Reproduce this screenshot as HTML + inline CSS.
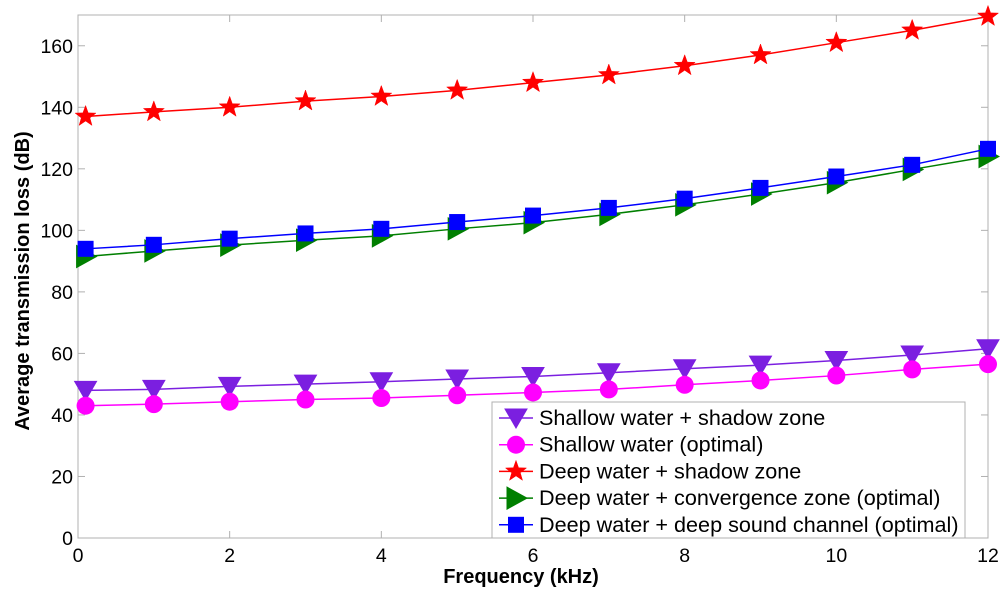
<!DOCTYPE html>
<html><head><meta charset="utf-8"><style>
body{margin:0;background:#fff;}
svg{display:block;font-family:"Liberation Sans",Arial,sans-serif;}
</style></head><body>
<svg id="chart" width="1000" height="597"></svg>
<script>
const xValues=[0.1,1,2,3,4,5,6,7,8,9,10,11,12];
const shallowShadow=[48,48.3,49.3,50,50.8,51.7,52.5,53.7,55,56.2,57.7,59.5,61.5];
const shallowOptimal=[43,43.5,44.3,45,45.5,46.4,47.3,48.3,49.8,51.2,52.8,54.8,56.5];
const deepShadow=[137,138.5,140,142,143.5,145.5,148,150.5,153.5,157,161,165,169.5];
const deepConvergence=[91.5,93.3,95.2,96.8,98.2,100.5,102.5,105.2,108.3,111.8,115.5,119.8,124];
const deepChannel=[94,95.3,97.3,99,100.5,102.7,104.8,107.3,110.3,113.8,117.5,121.3,126.5];
const xTicks=[0,2,4,6,8,10,12];
const yTicks=[0,20,40,60,80,100,120,140,160];
const seriesNames=["Shallow water + shadow zone","Shallow water (optimal)","Deep water + shadow zone","Deep water + convergence zone (optimal)","Deep water + deep sound channel (optimal)"];

const NS="http://www.w3.org/2000/svg";
const svg=document.getElementById('chart');
const L=78,R=988,T=15,B=538,XMAX=12,YMAX=170;
const sx=v=>L+v/XMAX*(R-L);
const sy=v=>B-v/YMAX*(B-T);
function mk(tag,attrs,parent){const e=document.createElementNS(NS,tag);for(const k in attrs)e.setAttribute(k,attrs[k]);(parent||svg).appendChild(e);return e;}
const frame=mk('rect',{x:L,y:T,width:R-L,height:B-T,fill:'#fff',stroke:'#b0b0b0','stroke-width':1});


xTicks.forEach(t=>{
  const x=sx(t);
  mk('line',{x1:x,x2:x,y1:B,y2:B-7,stroke:'#b0b0b0'});mk('line',{x1:x,x2:x,y1:T,y2:T+7,stroke:'#b0b0b0'});
  const tx=mk('text',{x:x,y:B+24,'font-size':19.5,'text-anchor':'middle'});tx.textContent=t;
  
  
});
yTicks.forEach(t=>{
  const y=sy(t);
  mk('line',{x1:L,x2:L+7,y1:y,y2:y,stroke:'#b0b0b0'});mk('line',{x1:R-7,x2:R,y1:y,y2:y,stroke:'#b0b0b0'});
  const tx=mk('text',{x:L-5,y:y+7,'font-size':19.5,'text-anchor':'end'});tx.textContent=t;
  
  
});
const xt=mk('text',{x:521,y:583,'font-size':20,'font-weight':'bold','text-anchor':'middle'});xt.textContent='Frequency (kHz)';


const yt=mk('text',{x:0,y:0,'font-size':20,'font-weight':'bold','text-anchor':'middle',transform:`translate(29,281) rotate(-90)`});yt.textContent='Average transmission loss (dB)';



function marker(g,type,x,y,color){
  if(type==='tri-down')mk('polygon',{points:`${x-11},${y-9} ${x+11},${y-9} ${x},${y+10}`,fill:color,stroke:color},g);
  else if(type==='circle')mk('circle',{cx:x,cy:y,r:9,fill:color},g);
  else if(type==='star'){let p=[];for(let i=0;i<10;i++){const r=i%2?4.5:11,a=-Math.PI/2+i*Math.PI/5;p.push((x+r*Math.cos(a)).toFixed(1)+','+(y+r*Math.sin(a)).toFixed(1));}mk('polygon',{points:p.join(' '),fill:color,stroke:color,'stroke-width':0.5},g);}
  else if(type==='tri-right')mk('polygon',{points:`${x-9},${y-11} ${x-9},${y+11} ${x+11},${y}`,fill:color,stroke:color},g);
  else if(type==='square')mk('rect',{x:x-8,y:y-8,width:16,height:16,fill:color},g);
}
const series=[
 {d:shallowShadow,c:'#7b1fe0',m:'tri-down',n:'series-shallow-shadow'},
 {d:shallowOptimal,c:'#ff00ff',m:'circle',n:'series-shallow-optimal'},
 {d:deepShadow,c:'#ff0000',m:'star',n:'series-deep-shadow'},
 {d:deepConvergence,c:'#007f00',m:'tri-right',n:'series-deep-convergence'},
 {d:deepChannel,c:'#0000ff',m:'square',n:'series-deep-channel'}];
series.forEach(s=>{
  const g=mk('g',{});
  
  
  mk('polyline',{points:xValues.map((x,i)=>sx(x)+','+sy(s.d[i])).join(' '),fill:'none',stroke:s.c,'stroke-width':1.5},g);
  xValues.forEach((x,i)=>marker(g,s.m,sx(x),sy(s.d[i]),s.c));
});
const lg=mk('g',{});


mk('rect',{x:492,y:402,width:473,height:136,fill:'#fff',stroke:'#b0b0b0'},lg);
series.forEach((s,i)=>{
  const y=418+i*26.7;
  const e=mk('g',{},lg);
  
  
  mk('line',{x1:499,x2:533,y1:y,y2:y,stroke:s.c,'stroke-width':1.5},e);
  marker(e,s.m,516,y,s.c);
  const t=mk('text',{x:539,y:y+7,'font-size':21.6},e);t.textContent=seriesNames[i];
});
</script>
</body></html>
